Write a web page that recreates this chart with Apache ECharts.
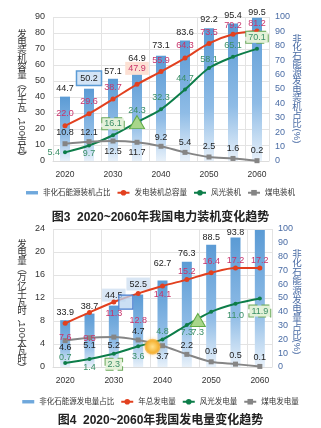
<!DOCTYPE html>
<html><head><meta charset="utf-8">
<script src="https://cdn.jsdelivr.net/npm/echarts@6/dist/echarts.min.js"></script>
<style>html,body{margin:0;padding:0;background:#fff}#c{width:321px;height:428px}</style>
</head><body><div id="c"></div>
<script>
// ---------- data ----------
const years = ['2020','2025','2030','2035','2040','2045','2050','2055','2060'];
// Figure 3: installed capacity
const capShare = [44.7, 50.2, 57.1, 64.9, 73.1, 83.6, 92.2, 95.4, 99.5];     // %
const capTotal = [22.0, 29.6, 38.7, 47.9, 55.9, 64.3, 73.5, 79.2, 81.2];     // 亿千瓦
const capWindSolar = [5.4, 9.7, 16.1, 24.3, 32.3, 44.7, 58.1, 65.1, 70.1];
const capCoal = [10.8, 12.1, 12.5, 11.7, 9.2, 5.4, 2.5, 1.6, 0.2];
// Figure 4: generation
const genShare = [33.9, 38.7, 44.5, 52.5, 62.7, 76.3, 88.5, 93.8, 99.3];     // %
const genTotal = [7.6, 9.5, 11.3, 12.8, 14.1, 15.2, 16.4, 17.2, 17.2];       // 万亿千瓦时
const genWindSolar = [0.7, 1.4, 2.3, 3.6, 4.8, 7.3, 9.6, 11.0, 11.9];
const genCoal = [4.6, 5.1, 5.2, 4.7, 3.7, 2.2, 0.9, 0.5, 0.1];

// ---------- label placement (style) ----------
const capSharePos = Array(9).fill('top'), capShareDist = [4,4,3,5,6,4,4,4,1];
const capTotalPos = Array(9).fill('top'), capTotalDist = [5,5,5,7,4,6,4,2,1];
const capWSPos = ['left','bottom','top','top','top','top','top','top','top'], capWSDist = [3,2,4,0,5,4,2,5,4];
const capCoalPos = ['top','top','bottom','bottom','top','top','top','top','top'], capCoalDist = [4,2,4,3,2,3,3,3,3];
const genSharePos = ['top','top','top','top','top','top','top','top',null], genShareDist = [3,3,4,4,12,4,3,1,0];
const genTotalPos = ['bottom','bottom','bottom','bottom','bottom','top','top','top','top'], genTotalDist = [7,19,4,20,2,1,4,1,1];
const genWSPos = ['top','bottom','bottom','bottom','top','bottom',null,'bottom','bottom'], genWSDist = [-1,2,3,4,1,1,0,5,5];
const genCoalPos = ['bottom','bottom','bottom','top','bottom','top','top','top','top'], genCoalDist = [0,1,1,1,4,2,3,2,2];

const blueBox = {backgroundColor:'#d3e4f6', borderColor:'#5b9bd5', borderWidth:1.5, padding:[2,3]};
const pinkBox = {backgroundColor:'#fde0d3', padding:[2,3]};
const greenBox = {backgroundColor:'#e3f1d8', borderColor:'#6aa95a', borderWidth:1, borderType:'dashed', padding:[1,2]};
const paleBlueBox = {backgroundColor:'#d9e6f4', padding:[2,3]};
const triStyle = {symbol:'triangle', symbolSize:[15,13], itemStyle:{color:'#a8d68a', borderColor:'#5faa45', borderWidth:1}};

const fmt1 = p => Number(p.value).toFixed(1);

function mk(vals, pos, dist, extra) {
  extra = extra || {};
  return vals.map((v, i) => {
    const e = extra[i] || {};
    const lab = pos[i] ? Object.assign({show:true, position:pos[i], distance:dist[i], formatter:fmt1}, e.label || {}) : {show:false};
    return Object.assign({}, e, {value:v, label:lab});
  });
}

const FONT = "'Liberation Sans','Noto Sans CJK SC',sans-serif";
const CJK = '"Noto Sans CJK SC"';
const barGrad = {type:'linear', x:0, y:0, x2:0, y2:1, colorStops:[
  {offset:0, color:'#5b9bd5'}, {offset:0.6, color:'#8fbce6'}, {offset:1, color:'#e8f1fa'}]};
const RED = '#e2401f', GREEN = '#0d7d49', GRAY = '#858585';
const RED_T = '#c8336a', GREEN_T = '#3a8e66', DARK = '#222', BLUE_T = '#4a6ca5';

function xAx(gi) {
  return {type:'category', gridIndex:gi, data:years, boundaryGap:true,
    axisLine:{show:true, lineStyle:{color:'#dcdcdc'}}, axisTick:{show:false},
    axisLabel:{fontSize:8.5, color:'#333', margin:9},
    splitLine:{show:true, lineStyle:{color:'#e3e3e3'}}};
}
function yL(gi, max, itv) {
  return {type:'value', gridIndex:gi, min:0, max:max, interval:itv,
    axisLine:{show:false}, axisTick:{show:false},
    axisLabel:{fontSize:9, color:'#333', margin:8},
    splitLine:{show:true, lineStyle:{color:'#e3e3e3'}}};
}
function yR(gi) {
  return {type:'value', gridIndex:gi, position:'right', min:0, max:100, interval:10,
    axisLine:{show:false}, axisTick:{show:false},
    axisLabel:{fontSize:9, color:BLUE_T, margin:6}, splitLine:{show:false}};
}
function lineS(name, xi, yi, data, color, labColor, symbol, size) {
  return {type:'line', name:name, xAxisIndex:xi, yAxisIndex:yi, data:data, smooth:0.3,
    symbol:symbol, symbolSize:size, z:3,
    lineStyle:{color:color, width:2}, itemStyle:{color:color},
    label:{color:labColor, fontSize:9}};
}
function barS(name, xi, yi, data) {
  return {type:'bar', name:name, xAxisIndex:xi, yAxisIndex:yi, data:data, barWidth:10, z:2,
    itemStyle:{color:barGrad}, label:{color:DARK, fontSize:9}};
}

function vtext(x, top, str, lh, color) {
  return {type:'text', x:x, y:top, z:10, style:{text:str.split('').join('\n'), fill:color,
    font:'9.5px ' + CJK, textAlign:'center', textVerticalAlign:'top', align:'center', verticalAlign:'top', lineHeight:lh}};
}
function rtext(x, cy, str, color) {
  return {type:'text', x:x, y:cy, rotation:-Math.PI/2, z:10, style:{text:str, fill:color,
    font:'9.5px ' + FONT, textAlign:'center', textVerticalAlign:'middle', align:'center', verticalAlign:'middle'}};
}

const legendIconBar = 'path://M0,0h14v4h-14z';

const s1Bar = barS('非化石能源装机占比', 0, 1, mk(capShare, capSharePos, capShareDist, {1:{label:blueBox}}));
const s1Red = lineS('发电装机总容量', 0, 0, mk(capTotal, capTotalPos, capTotalDist, {3:{label:pinkBox}}), RED, RED_T, 'circle', 5);
const s1Green = lineS('风光装机', 0, 0, mk(capWindSolar, capWSPos, capWSDist, {2:{label:greenBox}, 3:triStyle, 8:{label:greenBox}}), GREEN, GREEN_T, 'circle', 4);
const s1Gray = lineS('煤电装机', 0, 0, mk(capCoal, capCoalPos, capCoalDist), GRAY, DARK, 'rect', 5);

const s2Bar = barS('非化石能源发电量占比', 1, 3, mk(genShare, genSharePos, genShareDist, {2:{label:paleBlueBox}, 3:{label:paleBlueBox}}));
const s2Red = lineS('年总发电量', 1, 2, mk(genTotal, genTotalPos, genTotalDist), RED, RED_T, 'circle', 5);
s2Red.markPoint = {z:5, data:[{coord:[years[2], genTotal[2]], symbol:'rect', symbolSize:14, symbolOffset:[12,0],
  itemStyle:{color:'rgba(185,212,240,0.75)', borderColor:'#4a7fd0', borderWidth:1.2}, label:{show:false}}]};
const s2Green = lineS('风光发电量', 1, 2, mk(genWindSolar, genWSPos, genWSDist, {2:{label:greenBox}, 8:{label:greenBox}}), GREEN, GREEN_T, 'circle', 4);
s2Green.markPoint = {z:5, data:[
  {coord:[years[5], genWindSolar[5]], value:genWindSolar[5], symbol:'triangle', symbolSize:[15,13], symbolOffset:[11,-5],
   itemStyle:{color:'#a8d68a', borderColor:'#5faa45', borderWidth:1},
   label:{show:true, position:'bottom', distance:1, color:GREEN_T, fontSize:9, formatter:fmt1}},
  {coord:[years[4], genCoal[4]], symbol:'circle', symbolSize:16, symbolOffset:[-10,1],
   itemStyle:{color:{type:'radial', x:0.5, y:0.5, r:0.5, colorStops:[{offset:0,color:'#ffe08a'},{offset:0.75,color:'#f5b335'},{offset:1,color:'rgba(245,170,50,0.55)'}]},
     shadowBlur:4, shadowColor:'rgba(245,170,40,0.6)'}, label:{show:false}}
]};
const s2Gray = lineS('煤电发电量', 1, 2, mk(genCoal, genCoalPos, genCoalDist), GRAY, DARK, 'rect', 5);

const chart = echarts.init(document.getElementById('c'), null, {renderer:'canvas'});
chart.setOption({
  backgroundColor:'#fff',
  animation:false,
  textStyle:{fontFamily:FONT},
  title:[
    {text:'图3  2020~2060年我国电力装机变化趋势', left:'center', top:207, textStyle:{fontSize:12, fontWeight:'bold', color:'#222', fontFamily:FONT}},
    {text:'图4  2020~2060年我国发电量变化趋势', left:'center', top:410, textStyle:{fontSize:12, fontWeight:'bold', color:'#222', fontFamily:FONT}}
  ],
  legend:[
    {top:184, left:'center', itemWidth:12, itemHeight:7, itemGap:6, textStyle:{fontSize:7.5, color:'#333'},
     data:[{name:'非化石能源装机占比', icon:legendIconBar, itemStyle:{color:'#6fa8dc'}}, '发电装机总容量', '风光装机', '煤电装机']},
    {top:393, left:'center', itemWidth:12, itemHeight:7, itemGap:6, textStyle:{fontSize:7.5, color:'#333'},
     data:[{name:'非化石能源发电量占比', icon:legendIconBar, itemStyle:{color:'#6fa8dc'}}, '年总发电量', '风光发电量', '煤电发电量']}
  ],
  grid:[
    {left:53, right:52, top:17, height:144},
    {left:53, right:49, top:229, height:138}
  ],
  xAxis:[xAx(0), xAx(1)],
  yAxis:[yL(0, 90, 10), yR(0), yL(1, 24, 4), yR(1)],
  series:[s1Bar, s1Red, s1Green, s1Gray, s2Bar, s2Red, s2Green, s2Gray],
  graphic:[
    vtext(22, 29, '发电装机容量︵亿千瓦、', 8.3, '#333'),
    rtext(22, 128, '100', '#333'),
    vtext(22, 136, '吉瓦︶', 8.3, '#333'),
    vtext(297, 34, '非化石能源发电装机占比', 8.5, BLUE_T),
    rtext(297, 136, '(%)', BLUE_T),
    vtext(22, 239, '发电量︵万亿千瓦时、', 8.4, '#333'),
    rtext(22, 330, '100', '#333'),
    vtext(22, 338, '太瓦时︶', 8.4, '#333'),
    vtext(297, 249, '非化石能源发电量占比', 9.1, BLUE_T),
    rtext(297, 347, '(%)', BLUE_T)
  ]
});
</script>
</body></html>
